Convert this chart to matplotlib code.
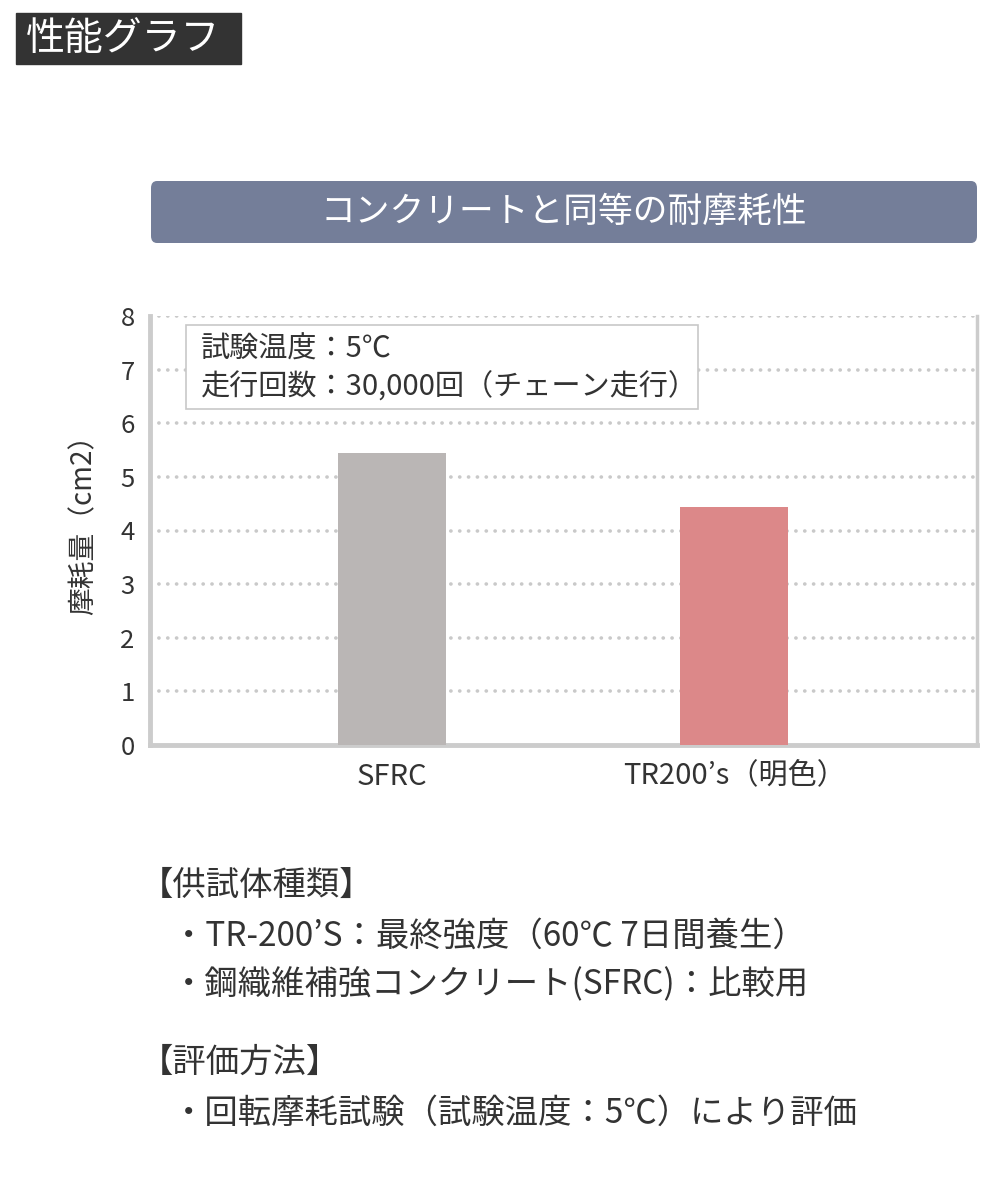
import matplotlib.pyplot as plt
from matplotlib.patches import FancyBboxPatch, Rectangle

plt.rcParams['font.family'] = ['Noto Sans CJK JP', 'DejaVu Sans']

# data
categories = ['SFRC', 'TR200’s（明色）']
wear = [5.45, 4.43]
bar_colors = ['#bab6b5', '#dc8889']
y_ticks = [0, 1, 2, 3, 4, 5, 6, 7, 8]

header = '性能グラフ'
title = 'コンクリートと同等の耐摩耗性'
ylabel = '摩耗量（cm2）'
cond_lines = ['試験温度：5℃', '走行回数：30,000回（チェーン走行）']
notes = [
    ('【供試体種類】', 140, 885),
    ('・TR-200’S：最終強度（60℃ 7日間養生）', 172, 936),
    ('・鋼織維補強コンクリート(SFRC)：比較用', 172, 985),
    ('【評価方法】', 140, 1062),
    ('・回転摩耗試験（試験温度：5℃）により評価', 172, 1113),
]

W, H = 1000, 1180
fig = plt.figure(figsize=(W / 100, H / 100), dpi=100)
txt = '#333333'
grid_c = '#c9c9c9'

# header tag top-left
fig.patches.append(Rectangle((16 / W, 1 - 64 / H), 225 / W, 51 / H,
                             transform=fig.transFigure, color='#333333'))
fig.text(26 / W, 1 - 39 / H, header, color='white', fontsize=28,
         va='center', ha='left')

# title bar
fig.patches.append(FancyBboxPatch((151 / W, 1 - 243 / H), 826 / W, 62 / H,
                                  boxstyle='round,pad=0,rounding_size=0.006',
                                  transform=fig.transFigure,
                                  facecolor='#747e99', edgecolor='none'))
fig.text(564 / W, 1 - 212 / H, title, color='white', fontsize=25,
         va='center', ha='center')

# chart
ax = fig.add_axes([150 / W, 1 - 745 / H, 827 / W, 429 / H])
x = range(len(categories))
ax.bar(x, wear, width=0.316, color=bar_colors, zorder=3)
ax.set_xlim(-0.708, 1.71)
ax.set_ylim(0, 8)
ax.set_yticks(y_ticks)
ax.set_yticklabels([str(t) for t in y_ticks], fontsize=18.5, color=txt)
ax.set_xticks(list(x))
ax.set_xticklabels(categories, fontsize=21, color=txt)
ax.tick_params(length=0, pad=11)
ax.tick_params(axis='x', pad=12)
for t in y_ticks[1:]:
    ax.axhline(t, color=grid_c, lw=2.6, linestyle=(0, (0.05, 2.4)),
               dash_capstyle='round', zorder=1)
ax.spines['top'].set_visible(False)
for s in ['left', 'bottom']:
    ax.spines[s].set_color('#cccccc')
    ax.spines[s].set_linewidth(3.5)
ax.spines['right'].set_color('#cccccc')
ax.spines['right'].set_linewidth(2.5)
ax.set_ylabel(ylabel, fontsize=20, color=txt)
ax.yaxis.set_label_coords(-0.062, 0.53)

# condition box
ax.add_patch(Rectangle((0.0435, 0.783), 0.619, 0.196, transform=ax.transAxes,
                       facecolor='white', edgecolor='#c8c8c8', lw=1.2,
                       zorder=4))
ax.text(0.062, 0.921, cond_lines[0], transform=ax.transAxes, fontsize=21,
        color=txt, va='center', ha='left', zorder=5)
ax.text(0.062, 0.834, cond_lines[1], transform=ax.transAxes, fontsize=21,
        color=txt, va='center', ha='left', zorder=5)

# notes below chart
for s, px, py in notes:
    fig.text(px / W, 1 - py / H, s, fontsize=24, color=txt,
             va='center', ha='left')

fig.savefig('out.png', dpi=100, facecolor='white')
